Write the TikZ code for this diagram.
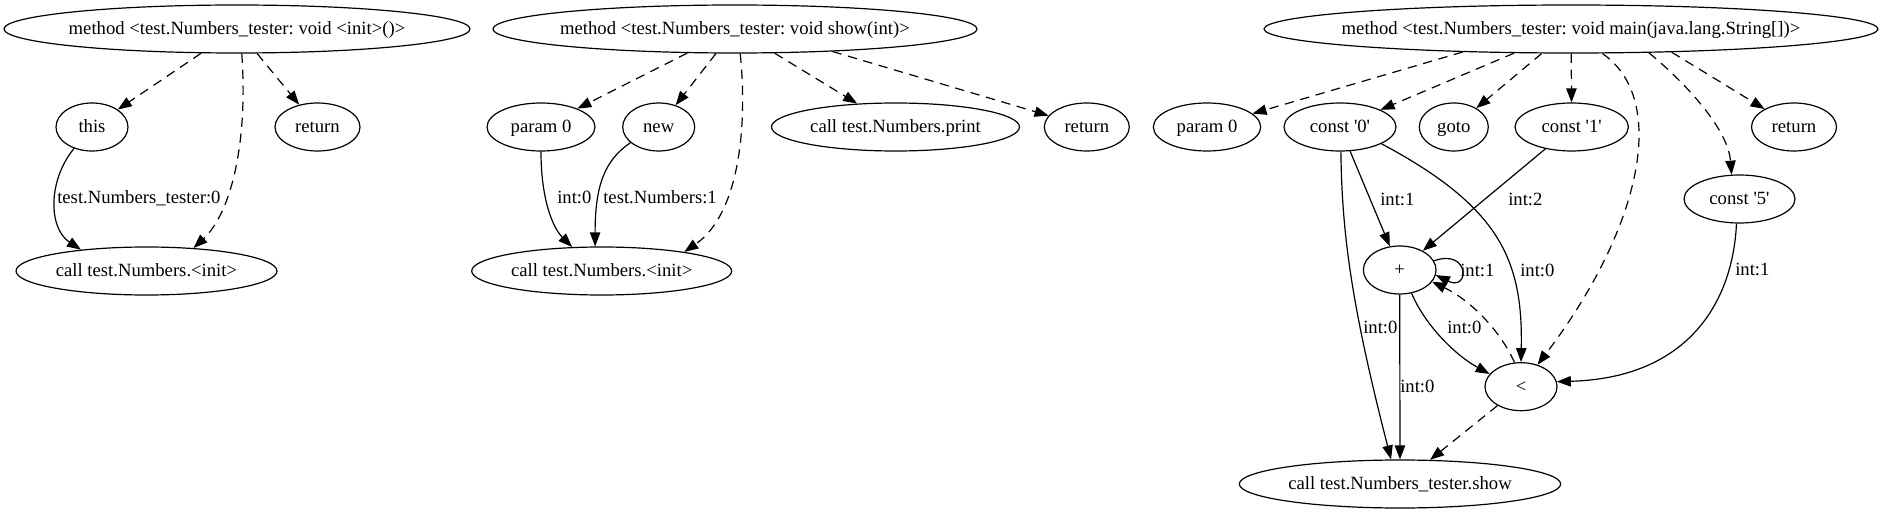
\documentclass[tikz,border=0pt]{standalone}
\usepackage{fontspec}
\newfontfamily\gvfont{Liberation Serif}
\usetikzlibrary{shapes.geometric,arrows.meta}
\frenchspacing
\tikzset{
  gvtext/.style={font=\gvfont\fontsize{14}{16}\selectfont, text height=8pt, text depth=0pt},
  gv/.style={gvtext, ellipse, draw, line width=0.9pt, inner sep=0pt, minimum height=36pt,
    execute at begin node={\hbox to 0pt\bgroup\hss}, execute at end node={\hss\egroup}},
  lbl/.style={gvtext, inner sep=0pt, anchor=west},
  dep/.style={-{Triangle[length=10.5pt,width=7.8pt]}, dash pattern=on 7pt off 5pt, line width=0.9pt},
  dat/.style={-{Triangle[length=10.5pt,width=7.8pt]}, line width=0.9pt}
}
\begin{document}
\begin{tikzpicture}[x=0.75pt,y=-0.75pt]
\fill[white] (0,0) rectangle (1885,513);
\useasboundingbox (0,0) rectangle (1885,513);
% graph 1
\node[gv, minimum width=349.5pt] (m1) at (237,29) {method <test.Numbers\_tester: void <init>()>};
\node[gv, minimum width=54pt] (this1) at (92,127) {this};
\node[gv, minimum width=63.75pt] (ret1) at (317.5,127) {return};
\node[gv, minimum width=195.75pt] (ci1) at (146.5,271) {call test.Numbers.<init>};
\draw[dep] (m1) -- (this1);
\draw[dep] (m1.-79) .. controls (248,140) and (232,212) .. (ci1.26);
\draw[dep] (m1) -- (ret1);
\draw[dat] (this1.230) .. controls (48,180) and (48,228) .. (ci1.162);
\node[lbl] (l1) at (57,198) {test.Numbers\_tester:0};
% graph 2
\node[gv, minimum width=363pt] (m2) at (735,29) {method <test.Numbers\_tester: void show(int)>};
\node[gv, minimum width=81pt] (p2) at (541,127) {param 0};
\node[gv, minimum width=54pt] (new2) at (658.7,127) {new};
\node[gv, minimum width=186pt] (cp2) at (895.5,127) {call test.Numbers.print};
\node[gv, minimum width=63.75pt] (ret2) at (1086.8,127) {return};
\node[gv, minimum width=195pt] (ci2) at (601.7,271) {call test.Numbers.<init>};
\draw[dep] (m2) -- (p2);
\draw[dep] (m2) -- (new2);
\draw[dep] (m2.-78) .. controls (748,130) and (738,215) .. (ci2.13);
\draw[dep] (m2) -- (cp2);
\draw[dep] (m2.-13) -- (ret2);
\draw[dat] (p2.south) .. controls (541,200) and (553,228) .. (ci2.141);
\draw[dat] (new2.209) .. controls (605,160) and (595,185) .. (ci2.105);
\node[lbl] (l2) at (557,198) {int:0};
\node[lbl] (l3) at (603,198) {test.Numbers:1};
% graph 3
\node[gv, minimum width=460.5pt] (m3) at (1571,29) {method <test.Numbers\_tester: void main(java.lang.String[])>};
\node[gv, minimum width=80.5pt] (p3) at (1207,127) {param 0};
\node[gv, minimum width=84pt] (c0) at (1340,127) {const \char"27 0\char"27};
\node[gv, minimum width=51.75pt] (goto3) at (1453.8,127) {goto};
\node[gv, minimum width=85pt] (c1) at (1571.7,127) {const \char"27 1\char"27};
\node[gv, minimum width=63.75pt] (ret3) at (1794,127) {return};
\node[gv, minimum width=83.25pt] (c5) at (1739.5,199) {const \char"27 5\char"27};
\node[gv, minimum width=54.5pt] (plus) at (1399.7,270) {+};
\node[gv, minimum width=54pt] (lt) at (1521,386.7) {<};
\node[gv, minimum width=241pt] (cs) at (1400,484) {call test.Numbers\_tester.show};
\draw[dep] (m3.192) -- (p3);
\draw[dep] (m3) -- (c0);
\draw[dep] (m3) -- (goto3);
\draw[dep] (m3) -- (c1);
\draw[dep] (m3.-38) .. controls (1670,100) and (1640,230) .. (lt.53);
\draw[dep] (m3.-17) .. controls (1688,85) and (1728,130) .. (c5.108);
\draw[dep] (m3.-13.3) -- (ret3);
\draw[dat] (c0) -- (plus);
\draw[dat] (c1) -- (plus);
\draw[dat] (c0.-22) .. controls (1500,207) and (1523,260) .. (lt.north);
\draw[dat] (c0.-88) .. controls (1342,230) and (1350,300) .. (cs.110);
\draw[dat] (plus.15) .. controls (1470,248) and (1470,292) .. (plus.-8);
\draw[dat] (plus) -- (cs);
\draw[dat] (plus.-63) .. controls (1425,325) and (1455,355) .. (lt.158);
\draw[dep] (lt.105) .. controls (1500,330) and (1470,300) .. (plus.-20);
\draw[dat] (c5.-97) .. controls (1733,300) and (1690,378) .. (lt.8);
\draw[dep] (lt) -- (cs);
\node[lbl] (l4) at (1380,200) {int:1};
\node[lbl] (l5) at (1508,200) {int:2};
\node[lbl] (l6) at (1520,271) {int:0};
\node[lbl] (l7) at (1460,271) {int:1};
\node[lbl] (l8) at (1363,328) {int:0};
\node[lbl] (l9) at (1447,328) {int:0};
\node[lbl] (l10) at (1400,387) {int:0};
\node[lbl] (l11) at (1735,270) {int:1};
\end{tikzpicture}
\end{document}
